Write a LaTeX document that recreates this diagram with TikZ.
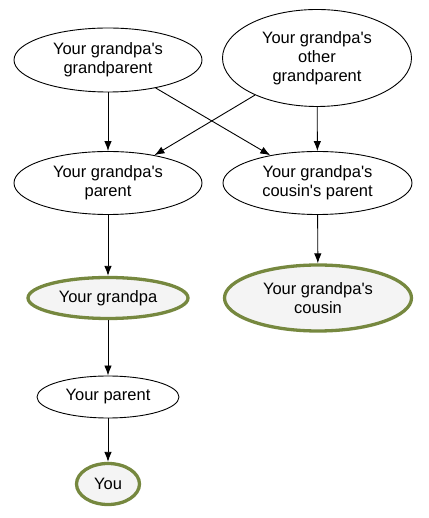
\documentclass[tikz,border=0pt]{standalone}
\usepackage{fontspec}
\setmainfont{Liberation Sans}
\usepackage{tikz}
\usetikzlibrary{arrows.meta}
\usetikzlibrary{shapes.geometric}
\definecolor{kincol}{HTML}{76883F}
\definecolor{kinfill}{HTML}{F4F4F4}
\newcommand{\ap}{\textquotesingle}
\begin{document}
\begin{tikzpicture}[>={Latex[length=10bp,width=7.5bp]},line join=bevel,line width=0.9bp,
  person/.style={draw,ellipse,inner sep=0pt,align=center,font=\fontsize{16.5bp}{19bp}\selectfont},
  kin/.style={person,draw=kincol,fill=kinfill,line width=3.3bp}]
%%
\useasboundingbox (0bp,0bp) rectangle (429bp,518bp);
\node (ggp) at (108bp,458bp) [person,minimum width=188bp,minimum height=64bp] {Your grandpa\ap s\\grandparent};
  \node (ogp) at (317bp,460bp) [person,minimum width=189bp,minimum height=97bp] {Your grandpa\ap s\\other\\grandparent};
  \node (gpp) at (108bp,335bp) [person,minimum width=188bp,minimum height=63bp] {Your grandpa\ap s\\parent};
  \node (cpp) at (317.5bp,335bp) [person,minimum width=189bp,minimum height=63bp] {Your grandpa\ap s\\cousin\ap s parent};
  \node (gpa) at (108bp,220bp) [kin,minimum width=160bp,minimum height=41bp] {Your grandpa};
  \node (cou) at (318bp,220bp) [kin,minimum width=187bp,minimum height=66bp] {Your grandpa\ap s\\cousin};
  \node (par) at (108bp,121bp) [person,minimum width=142bp,minimum height=42bp] {Your parent};
  \node (you) at (108bp,34bp) [kin,minimum width=63bp,minimum height=41bp] {You};
  \draw [->] (ggp) -- (gpp);
  \draw [->] (ggp) -- (cpp);
  \draw [->] (ogp) -- (gpp);
  \draw [->] (ogp) -- (cpp);
  \draw [->] (gpp) -- (gpa);
  \draw [->] (cpp) -- (cou);
  \draw [->] (gpa) -- (par);
  \draw [->] (par) -- (you);
%
\end{tikzpicture}
\end{document}
